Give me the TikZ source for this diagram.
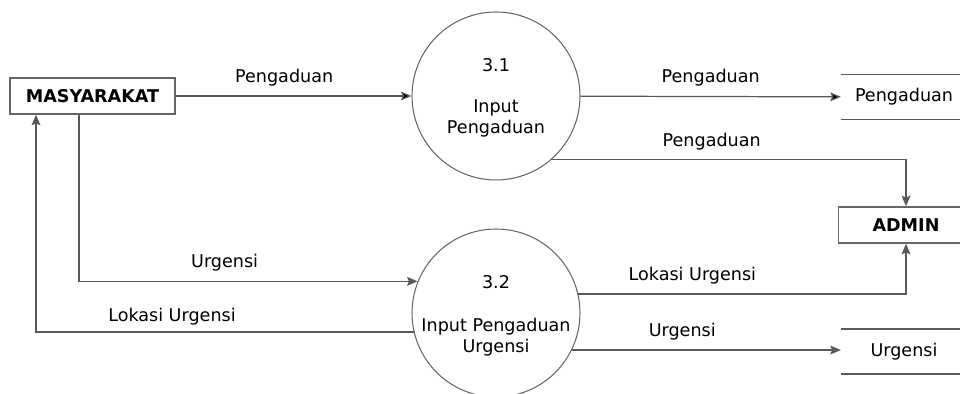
\documentclass[tikz,border=0pt]{standalone}
\usepackage{fontspec}
\setmainfont{DejaVu Sans}
\usepackage{tikz}
\usetikzlibrary{arrows,arrows.meta}

\begin{document}
\begin{tikzpicture}[->,>={Stealth[length=6pt,width=5pt,inset=1pt]},x=0.02cm,y=-0.02cm,line width=0.7pt,
	font=\fontsize{10}{12}\selectfont]
	\tikzstyle{entity}=[draw=black!60,thick,minimum height=0.72cm,inner sep=2pt,font=\fontsize{10}{12}\selectfont\bfseries]
	\tikzstyle{proc}=[circle,draw=black!60,line width=0.6pt,minimum size=3.36cm]
	\tikzstyle{store}=[minimum height=0.88cm,minimum width=2.5cm]
	\tikzstyle{flow}=[draw=black!65]
	\tikzstyle{lbl}=[above=2pt,text=black]
	
	\useasboundingbox (0,0) rectangle (960,394);
	
	\node[entity,minimum width=3.3cm] (mas) at (92.5,96) {MASYARAKAT};
	\node[entity,minimum width=2.7cm] (admin) at (906,225) {ADMIN};
	
	\node[proc] (p1) at (496,96) {};
	\node (p1num) at ([yshift=0.62cm]p1.center) {3.1};
	\node[align=center] (p1name) at ([yshift=-0.44cm]p1.center) {Input\\Pengaduan};
	
	\node[proc] (p2) at (496,313) {};
	\node (p2num) at ([yshift=0.62cm]p2.center) {3.2};
	\node[align=center] (p2name) at ([yshift=-0.48cm]p2.center) {Input Pengaduan\\Urgensi};
	
	\node[store] (s1) at (904,97) {Pengaduan};
	\node[store] (s2) at (904,351.5) {Urgensi};
	\draw[-,flow] (s1.north west) -- (s1.north east);
	\draw[-,flow] (s1.south west) -- (s1.south east);
	\draw[-,flow] (s2.north west) -- (s2.north east);
	\draw[-,flow] (s2.south west) -- (s2.south east);
	
	\path[flow] (mas) edge node[lbl,pos=0.46] {Pengaduan} (p1);
	\path[flow] (p1) edge node[lbl] {Pengaduan} (s1);
	\draw[flow] (p1.-49.6) -| node[lbl,pos=0.226] {Pengaduan} (admin.north);
	\draw[flow] (p2.13.8) -| node[lbl,pos=0.174] {Lokasi Urgensi} (admin.south);
	\draw[flow] (p2.-26.1) -- node[lbl,pos=0.41] {Urgensi} (p2.-26.1 -| s2.west);
	\draw[flow] ([xshift=-0.27cm]mas.south) |- node[lbl,pos=0.715] {Urgensi} (p2.158.3);
	\draw[flow] (p2.193.1) -| node[above=0pt,text=black,pos=0.32] {Lokasi Urgensi} ([xshift=-1.13cm]mas.south);
	
\end{tikzpicture}
\end{document}
